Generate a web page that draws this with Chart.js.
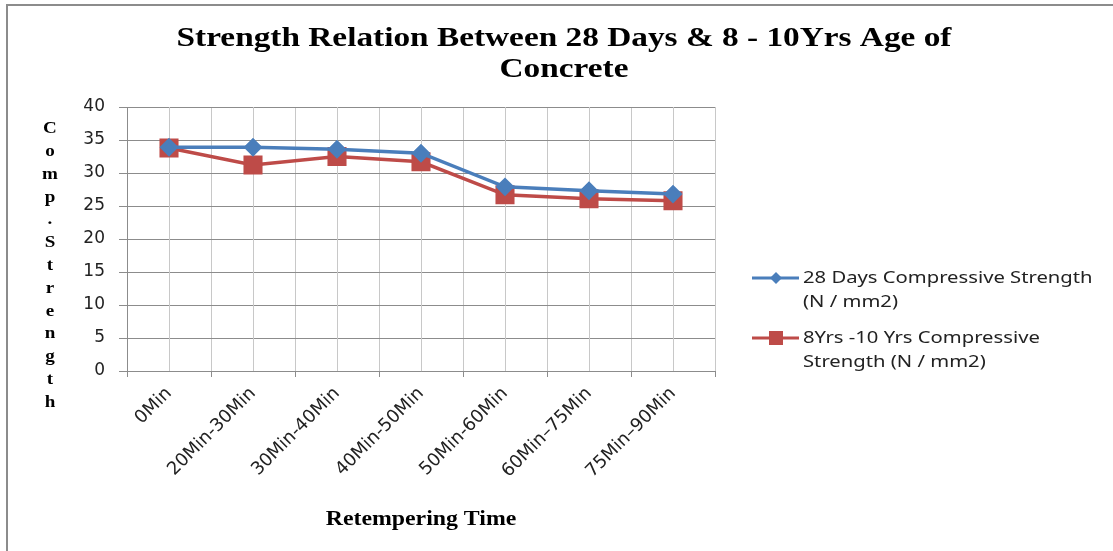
<head>
  <style>
    html,
    body {
      margin: 0;
      height: 100%;
      overflow: hidden;
      background: #fff;
    }
  </style>
</head>
<body>
  <canvas id="chart1" width="1113" height="551"></canvas>
</body>
<script src="https://cdn.jsdelivr.net/npm/chart.js@4"></script>
<script>
  const categories = [
    '0Min',
    '20Min-30Min',
    '30Min-40Min',
    '40Min-50Min',
    '50Min-60Min',
    '60Min\u201375Min',
    '75Min\u201390Min'
  ]
  const strength28Days = [33.9, 33.9, 33.6, 33.0, 27.9, 27.3, 26.8]
  const strength8to10Yrs = [33.8, 31.2, 32.5, 31.7, 26.7, 26.1, 25.8]
  const yTicks = [0, 5, 10, 15, 20, 25, 30, 35, 40]

  const titleLines = [
    'Strength Relation Between 28 Days & 8 - 10Yrs Age of',
    'Concrete'
  ]
  const yLabel = 'Comp.Strength'
  const xLabel = 'Retempering Time'
  const legendLines = [
    ['28 Days Compressive Strength', '(N / mm2)'],
    ['8Yrs -10 Yrs Compressive', 'Strength (N / mm2)']
  ]

  const blue = '#4a7ebb'
  const red = '#be4b48'
  const lightGrid = '#c8c8c8'
  const darkGrid = '#8c8c8c'
  const stretch = 1.19

  // text written a little wider than the font, like the original picture
  function wideText(ctx, text, x, y) {
    ctx.save()
    ctx.translate(x, y)
    ctx.scale(stretch, 1)
    ctx.fillText(text, 0, 0)
    ctx.restore()
  }

  const extras = {
    id: 'extras',
    beforeDraw(chart) {
      const ctx = chart.ctx
      ctx.save()
      ctx.fillStyle = '#fff'
      ctx.fillRect(0, 0, chart.width, chart.height)
      ctx.fillStyle = '#8c8c8c'
      ctx.fillRect(6, 4, 2, chart.height - 4)
      ctx.fillRect(6, 4, chart.width - 6, 2)
      ctx.restore()
    },
    beforeDatasetsDraw(chart) {
      // extra light grid lines through the middle of each category
      const ctx = chart.ctx
      const xs = chart.scales.x
      const area = chart.chartArea
      ctx.save()
      ctx.strokeStyle = lightGrid
      ctx.lineWidth = 1
      categories.forEach((c, i) => {
        const x = Math.round(xs.getPixelForValue(i)) + 0.5
        ctx.beginPath()
        ctx.moveTo(x, area.top)
        ctx.lineTo(x, area.bottom)
        ctx.stroke()
      })
      ctx.restore()
    },
    afterDraw(chart) {
      const ctx = chart.ctx
      const area = chart.chartArea
      ctx.save()
      ctx.fillStyle = '#000'
      ctx.textAlign = 'center'
      ctx.textBaseline = 'middle'
      ctx.font = 'bold 28px "Liberation Serif"'
      titleLines.forEach((t, i) => wideText(ctx, t, 564, 39 + i * 31))

      ctx.font = 'bold 16px "Liberation Serif"'
      yLabel.split('').forEach((c, i) => wideText(ctx, c, 50, 129 + i * 22.8))

      ctx.font = 'bold 20px "Liberation Serif"'
      wideText(ctx, xLabel, (area.left + area.right) / 2, 520)

      ctx.textAlign = 'left'
      ctx.font = '17px "Noto Sans"'
      chart.data.datasets.forEach((ds, i) => {
        const y = 278 + i * 60
        ctx.strokeStyle = ds.borderColor
        ctx.lineWidth = 3
        ctx.beginPath()
        ctx.moveTo(752, y)
        ctx.lineTo(799, y)
        ctx.stroke()
        ctx.fillStyle = ds.pointBackgroundColor
        if (ds.pointStyle === 'rect') {
          ctx.fillRect(769, y - 7, 14, 14)
        } else {
          ctx.beginPath()
          ctx.moveTo(776, y - 6)
          ctx.lineTo(782, y)
          ctx.lineTo(776, y + 6)
          ctx.lineTo(770, y)
          ctx.closePath()
          ctx.fill()
        }
        ctx.fillStyle = '#222'
        legendLines[i].forEach((t, j) => wideText(ctx, t, 803, y + j * 24))
      })
      ctx.restore()
    }
  }

  new Chart(document.getElementById('chart1'), {
    type: 'line',
    data: {
      labels: categories,
      datasets: [
        {
          label: legendLines[0].join(' '),
          data: strength28Days,
          borderColor: blue,
          backgroundColor: blue,
          pointBackgroundColor: blue,
          pointBorderColor: blue,
          pointStyle: 'rectRot',
          pointRadius: 7,
          borderWidth: 3.5,
          tension: 0
        },
        {
          label: legendLines[1].join(' '),
          data: strength8to10Yrs,
          borderColor: red,
          backgroundColor: red,
          pointBackgroundColor: red,
          pointBorderColor: red,
          pointStyle: 'rect',
          pointRadius: 11,
          borderWidth: 3.5,
          tension: 0
        }
      ]
    },
    options: {
      responsive: false,
      animation: false,
      layout: {
        padding: { top: 107, left: 67, right: 398, bottom: 14 }
      },
      plugins: {
        legend: { display: false },
        title: { display: false },
        tooltip: { enabled: false }
      },
      scales: {
        x: {
          offset: true,
          afterFit: s => {
            s.height = 166
          },
          grid: {
            offset: true,
            color: c => (c.index === 7 ? darkGrid : lightGrid),
            tickLength: 6,
            tickColor: darkGrid
          },
          border: { color: darkGrid },
          ticks: {
            color: '#222',
            autoSkip: false,
            maxRotation: 45,
            minRotation: 45,
            padding: 6,
            font: { family: 'DejaVu Sans', size: 18 }
          }
        },
        y: {
          min: 0,
          max: 40,
          afterFit: s => {
            s.width = 60
          },
          afterBuildTicks: s => {
            s.ticks = yTicks.map(v => ({ value: v }))
          },
          grid: { color: darkGrid, tickLength: 8, tickColor: darkGrid },
          border: { color: darkGrid },
          ticks: {
            color: '#222',
            padding: 14,
            font: { family: 'DejaVu Sans', size: 17 }
          }
        }
      }
    },
    plugins: [extras]
  })
</script>
